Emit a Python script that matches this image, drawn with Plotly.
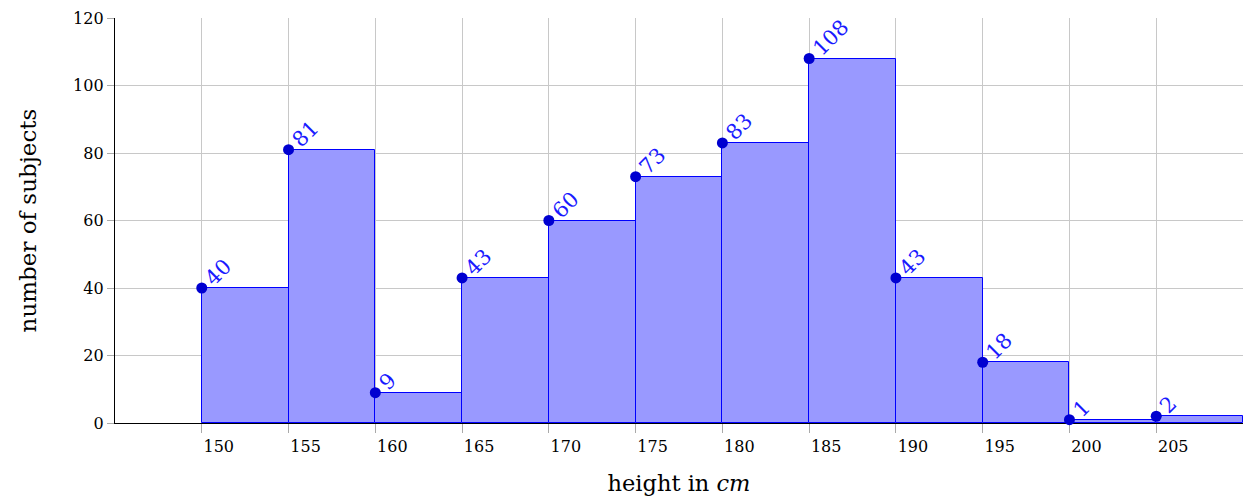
import plotly.graph_objects as go

# Height histogram: bin start (cm) and count of subjects per 5 cm bin
bin_starts = [150, 155, 160, 165, 170, 175, 180, 185, 190, 195, 200, 205]
counts = [40, 81, 9, 43, 60, 73, 83, 108, 43, 18, 1, 2]
bin_width = 5
x_ticks = [150, 155, 160, 165, 170, 175, 180, 185, 190, 195, 200, 205]
y_ticks = [0, 20, 40, 60, 80, 100, 120]

FONT = "DejaVu Serif"

fig = go.Figure()

fig.add_trace(go.Bar(
    x=bin_starts,
    y=counts,
    width=[bin_width] * len(bin_starts),
    offset=0,
    marker=dict(color="#9999ff", line=dict(color="#0000ff", width=1)),
    hoverinfo="x+y",
))

fig.add_trace(go.Scatter(
    x=bin_starts,
    y=counts,
    mode="markers",
    marker=dict(color="#0000d0", size=11),
    cliponaxis=False,
))

for xv, yv in zip(bin_starts, counts):
    fig.add_annotation(
        x=xv, y=yv, text=str(yv), textangle=-45,
        xanchor="left", yanchor="bottom", showarrow=False,
        xshift=-4, yshift=-5,
        font=dict(family=FONT, size=21, color="#1a1aff"),
    )

fig.update_layout(
    width=1247, height=497,
    margin=dict(l=115, r=4, t=18, b=74),
    plot_bgcolor="white", paper_bgcolor="white",
    showlegend=False,
    bargap=0,
    font=dict(family=FONT, color="black"),
)

fig.update_xaxes(
    range=[145, 210],
    tickmode="array", tickvals=x_ticks, ticktext=[str(v) for v in x_ticks],
    ticks="outside", ticklen=9, tickcolor="#aaaaaa", tickwidth=1,
    ticklabelshift=17, ticklabelstandoff=0,
    showgrid=True, gridcolor="#c8c8c8", gridwidth=1,
    showline=True, linecolor="black", linewidth=1.3,
    zeroline=False,
    layer="below traces",
    tickfont=dict(family=FONT, size=16),
    title=dict(text="height in <i>cm</i>", font=dict(family=FONT, size=22.5), standoff=19),
)

fig.update_yaxes(
    range=[0, 120],
    tickmode="array", tickvals=y_ticks,
    ticks="outside", ticklen=7, tickcolor="#aaaaaa", tickwidth=1,
    showgrid=True, gridcolor="#c8c8c8", gridwidth=1,
    showline=True, linecolor="black", linewidth=1.3,
    zeroline=False,
    layer="below traces",
    tickfont=dict(family=FONT, size=16),
    title=dict(text="number of subjects", font=dict(family=FONT, size=23), standoff=30),
)

fig.write_html("out.html")
